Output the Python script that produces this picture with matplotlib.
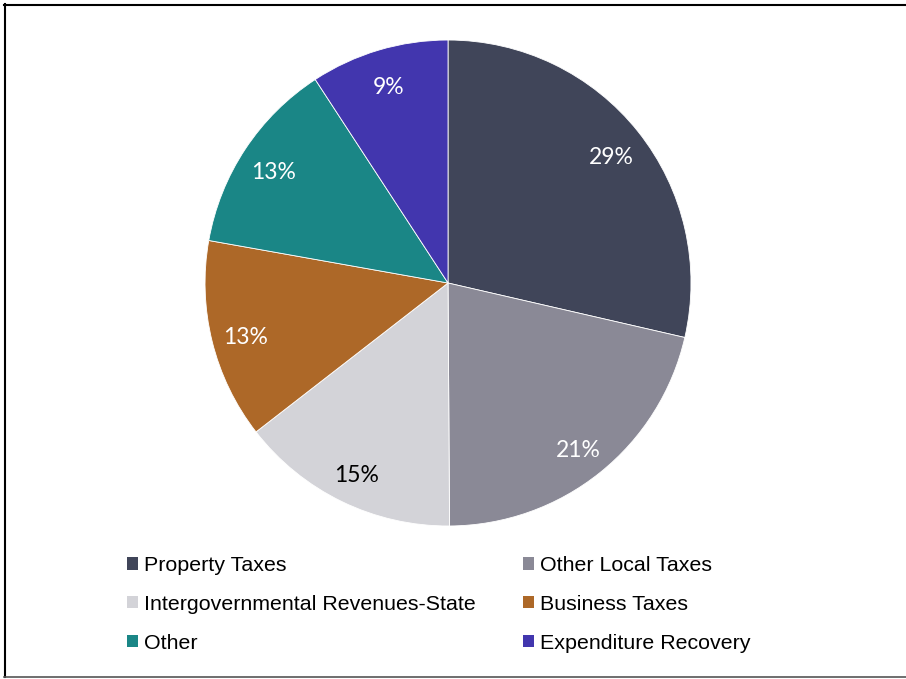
import matplotlib
matplotlib.use("Agg")
import matplotlib.pyplot as plt
from matplotlib.patches import Patch
from matplotlib.lines import Line2D
import numpy as np

categories = ["Property Taxes", "Other Local Taxes", "Intergovernmental Revenues-State",
              "Business Taxes", "Other", "Expenditure Recovery"]
values = [28.6, 21.3, 14.6, 13.3, 13.0, 9.2]
pct_labels = ["29%", "21%", "15%", "13%", "13%", "9%"]
colors = ["#404559", "#8A8996", "#D3D3D8", "#AD6828", "#1A8686", "#4236AE"]
label_colors = ["white", "white", "black", "white", "white", "white"]

fig = plt.figure(figsize=(9.06, 6.79), dpi=100)
ax = fig.add_axes([0.2263, 0.2253, 0.5364, 0.7158])

wedges, _ = ax.pie(values, colors=colors, startangle=90, counterclock=False,
                   radius=1.0, wedgeprops=dict(edgecolor="white", linewidth=0.6))
for w, lab, lc in zip(wedges, pct_labels, label_colors):
    mid = np.deg2rad((w.theta1 + w.theta2) / 2)
    ax.text(0.86 * np.cos(mid), 0.86 * np.sin(mid) - 0.018, lab, ha="center", va="center",
            fontsize=16.5, color=lc, family=["Lato", "DejaVu Sans"])
ax.set_xlim(-1, 1)
ax.set_ylim(-1, 1)
ax.set_aspect("equal")
ax.axis("off")

# ordering for 2-column legend (row-major)
order = [0, 2, 4, 1, 3, 5]
handles = [Patch(facecolor=colors[i], edgecolor="none") for i in order]
labels = [categories[i] for i in order]
leg = fig.legend(handles, labels, ncol=2, loc="upper left",
                 bbox_to_anchor=(127 / 906, 1 - 556 / 679),
                 frameon=False, handlelength=0.5, handleheight=0.5,
                 handletextpad=0.3, columnspacing=2.2, labelspacing=0.93,
                 borderaxespad=0, borderpad=0,
                 prop=dict(family="Liberation Sans", size=15.4))

# border
fig.add_artist(Line2D([4 / 906, 906 / 906], [1 - 4.5 / 679, 1 - 4.5 / 679], color="black", lw=1.5, transform=fig.transFigure))
fig.add_artist(Line2D([4.5 / 906, 4.5 / 906], [1 - 4 / 679, 1 - 677 / 679], color="black", lw=1.5, transform=fig.transFigure))
fig.add_artist(Line2D([4 / 906, 906 / 906], [1 - 677 / 679, 1 - 677 / 679], color="#555555", lw=1.2, transform=fig.transFigure))

fig.savefig("out.png", dpi=100, facecolor="white")
